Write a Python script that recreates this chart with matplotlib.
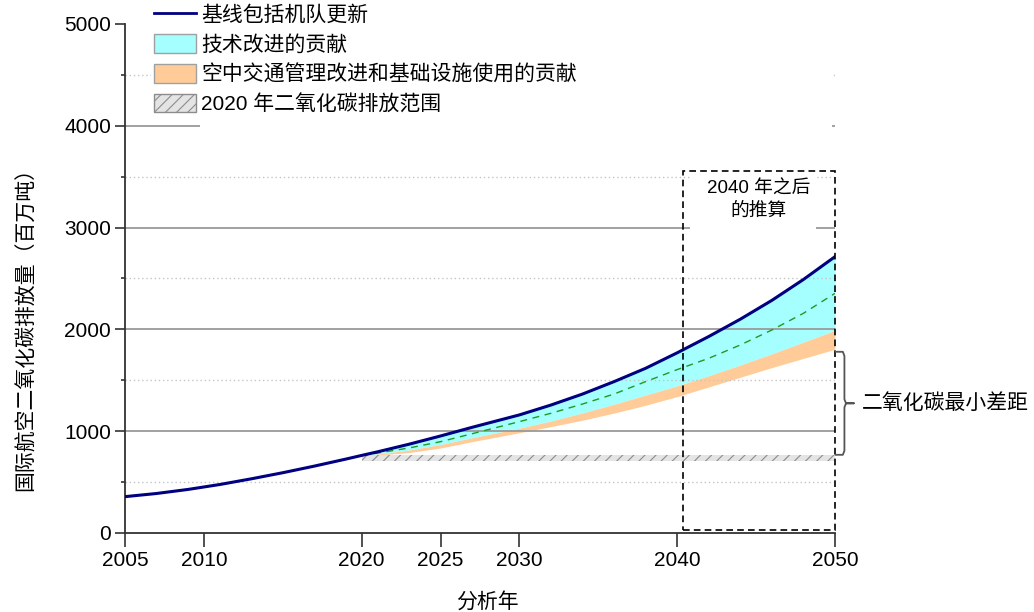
import numpy as np
import matplotlib
matplotlib.use("Agg")
import matplotlib.pyplot as plt
from matplotlib.patches import Patch, Rectangle
from matplotlib.lines import Line2D

plt.rcParams['font.family'] = ['Liberation Sans', 'Noto Sans CJK SC', 'DejaVu Sans']
plt.rcParams['hatch.linewidth'] = 0.8

# emissions, Mt CO2
years = [2005, 2007, 2009, 2011, 2013, 2015, 2017, 2019, 2020, 2021, 2023, 2025,
         2027, 2030, 2032, 2034, 2036, 2038, 2040, 2042, 2044, 2046, 2048, 2050]
baseline = [357, 388, 428, 476, 532, 592, 657, 726, 762, 797, 872, 953,
            1038, 1160, 1257, 1365, 1487, 1618, 1770, 1930, 2100, 2285, 2490, 2714]

proj_years = [2020, 2021, 2023, 2025, 2027, 2030, 2032, 2034, 2036, 2038,
              2040, 2042, 2044, 2046, 2048, 2050]
tech_mid = [762, 785, 835, 897, 975, 1094, 1176, 1267, 1365, 1487,
            1605, 1716, 1847, 1994, 2158, 2354]
tech_low = [762, 775, 815, 869, 936, 1030, 1100, 1180, 1265, 1355,
            1445, 1545, 1650, 1760, 1875, 1990]
ops_low = [762, 765, 790, 835, 897, 985, 1045, 1108, 1178, 1255,
           1340, 1435, 1530, 1625, 1715, 1805]

band_years = [2020, 2050]
band_low = [705, 705]
band_high = [768, 768]

xticks = [2005, 2010, 2020, 2025, 2030, 2040, 2050]
major_grid = [1000, 2000, 3000, 4000]
minor_grid = [500, 1500, 2500, 3500, 4500]

labels = ['基线包括机队更新', '技术改进的贡献', '空中交通管理改进和基础设施使用的贡献',
          '2020 年二氧化碳排放范围']

years = np.array(years)
baseline = np.array(baseline)
base_proj = baseline[np.isin(years, proj_years)]

fig = plt.figure(figsize=(10.34, 6.12), dpi=100)
ax = fig.add_axes([0.1209, 0.1291, 0.6866, 0.8317])

ax.fill_between(proj_years, tech_low, base_proj, color='#a5ffff', lw=0, zorder=1)
ax.fill_between(proj_years, ops_low, tech_low, color='#ffcc99', lw=0, zorder=1)
ax.fill_between(band_years, band_low, band_high, facecolor='#e4e4e4',
                edgecolor='#8c8c8c', hatch='///', lw=0, zorder=1)

# grid lines sit on top of the shaded areas
ax.hlines(major_grid, 2005, 2050, color='#9a9a9a', lw=1.3, zorder=2)
ax.hlines(minor_grid, 2005, 2050, color='#c4c4c4', lw=1.0, ls=(0, (1, 2)), zorder=2)

# blank areas behind the legend and the note
ax.add_patch(Rectangle((2006.7, 4100), 43.1, 900, facecolor='white', lw=0, zorder=3))
ax.add_patch(Rectangle((2009.75, 3950), 40.05, 200, facecolor='white', lw=0, zorder=3))
ax.add_patch(Rectangle((2040.8, 2960), 8.0, 590, facecolor='white', lw=0, zorder=3))

ax.plot(proj_years, tech_mid, color='#1f9a1f', lw=1.0, ls=(0, (5, 4)), zorder=4)
ax.plot(years, baseline, color='#000080', lw=2.2, zorder=5)

ax.add_patch(Rectangle((2040.35, 30), 9.65, 3526, fill=False, ec='black',
                       lw=1.2, ls=(0, (4, 2.5)), zorder=6, clip_on=False))
ax.text(2045.15, 3270, '2040 年之后\n的推算', ha='center', va='center',
        fontsize=13.5, linespacing=1.3, zorder=7)

# bracket for the remaining gap in 2050
top = ops_low[-1] - 25
bot = band_high[-1]
mid = (top + bot) / 2
bx = [2050.05, 2050.5, 2050.6, 2050.6, 2050.7, 2051.2, 2050.7, 2050.6, 2050.6, 2050.5, 2050.05]
by = [top, top, top - 40, mid + 40, mid, mid, mid, mid - 40, bot + 40, bot, bot]
ax.plot(bx, by, color='#555555', lw=1.3, clip_on=False, zorder=6)
ax.text(2051.7, mid, '二氧化碳最小差距', fontsize=15, va='center', ha='left')

ax.set_xlim(2005, 2050)
ax.set_ylim(0, 5000)
ax.set_xticks(xticks)
ax.set_yticks(range(0, 5001, 1000))
ax.set_yticks(minor_grid, minor=True)
ax.tick_params(axis='x', length=10, width=1.2, labelsize=15, pad=3, color='#333333')
ax.tick_params(axis='y', which='major', length=7, width=1.2, labelsize=15, pad=3,
               color='#333333')
ax.tick_params(axis='y', which='minor', length=3, width=1.2, color='#333333')

for s in ['top', 'right']:
    ax.spines[s].set_visible(False)
for s in ['left', 'bottom']:
    ax.spines[s].set_linewidth(1.3)
    ax.spines[s].set_color('#333333')

ax.set_xlabel('分析年', fontsize=15)
ax.set_ylabel('国际航空二氧化碳排放量（百万吨）', fontsize=15)
ax.xaxis.set_label_coords(0.51, -0.115)
ax.yaxis.set_label_coords(-0.125, 0.41)

handles = [
    Line2D([], [], color='#000080', lw=2.0),
    Patch(facecolor='#a5ffff', edgecolor='#a0a0a0'),
    Patch(facecolor='#ffcc99', edgecolor='#a0a0a0'),
    Patch(facecolor='#e4e4e4', edgecolor='#8c8c8c', hatch='///'),
]
leg = ax.legend(handles, labels, loc='upper left', bbox_to_anchor=(0.146, 0.998),
                bbox_transform=fig.transFigure, fontsize=15, frameon=True,
                fancybox=False, borderpad=0.15, borderaxespad=0, labelspacing=0.45,
                handlelength=2.0, handleheight=1.0, handletextpad=0.25)
leg.get_frame().set_edgecolor('none')
leg.get_frame().set_facecolor('white')
leg.get_frame().set_alpha(1)
leg.set_zorder(8)

fig.savefig('out.png', dpi=100)
